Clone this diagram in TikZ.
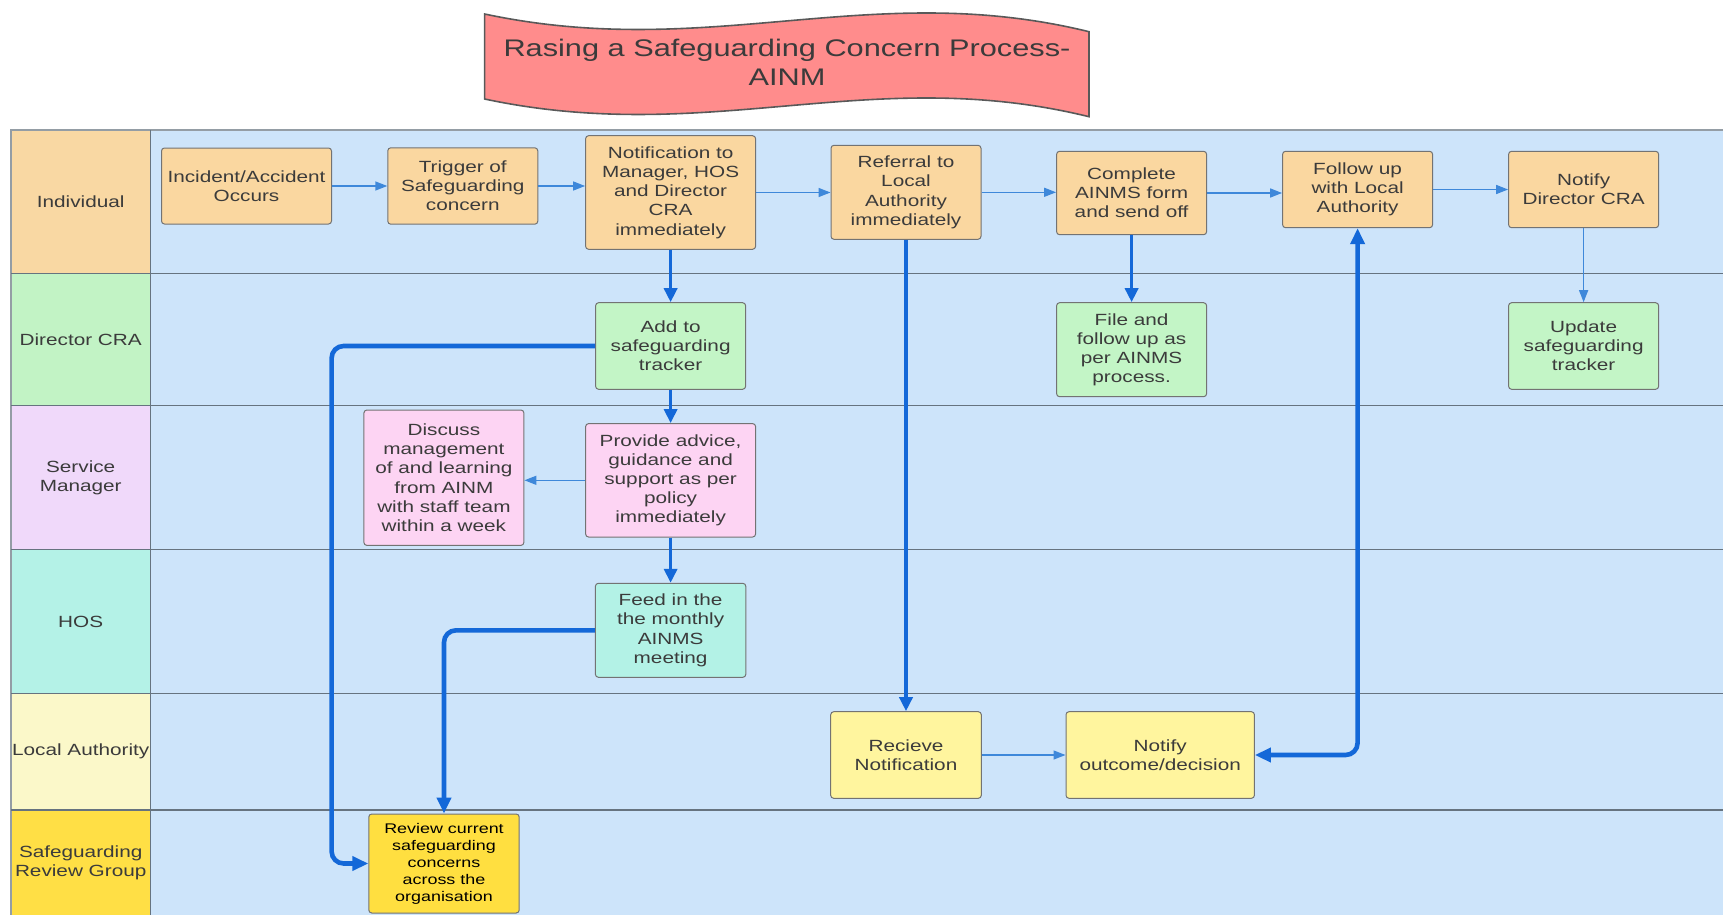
\documentclass[tikz,border=0pt]{standalone}
\usepackage{fontspec}
\setmainfont{Liberation Sans}[FakeStretch=1.28]
\usetikzlibrary{arrows.meta,positioning}

\definecolor{lanebg}{HTML}{CDE4FA}
\definecolor{indiv}{HTML}{F9D8A3}
\definecolor{director}{HTML}{C2F3C5}
\definecolor{service}{HTML}{F0D9FA}
\definecolor{hos}{HTML}{B4F2E7}
\definecolor{authority}{HTML}{FBF8C9}
\definecolor{reviewgrp}{HTML}{FFDF45}
\definecolor{orangebox}{HTML}{FAD7A0}
\definecolor{greenbox}{HTML}{C3F5C6}
\definecolor{pinkbox}{HTML}{FDD4F3}
\definecolor{aquabox}{HTML}{B3F2E6}
\definecolor{yellowbox}{HTML}{FFF59E}
\definecolor{goldbox}{HTML}{FFDF40}
\definecolor{flowblue}{HTML}{1468D8}
\definecolor{thinblue}{HTML}{3E88DA}
\definecolor{banner}{HTML}{FF8C8C}
\definecolor{textgrey}{HTML}{3B3B3B}
\definecolor{lanegrey}{HTML}{66737F}
\tikzstyle{b} = [draw=black!55, line width=0.5pt, rounded corners=1.5pt, align=center, text=textgrey, font=\fontsize{8.1}{9.6}\selectfont, inner sep=0pt]

\begin{document}
\begin{tikzpicture}[x=0.5pt,y=-0.5pt,
			ob/.style={b,fill=orangebox,minimum width=75pt},
			gb/.style={b,fill=greenbox,minimum width=75pt},
			pb/.style={b,fill=pinkbox},
			yb/.style={b,fill=yellowbox,minimum height=43.3pt},
			lane/.style={align=center, text=textgrey, font=\fontsize{8.1}{9.6}\selectfont, inner sep=0pt},
			sep/.style={lanegrey, line width=0.65pt},
			thinflow/.style={-{Triangle[length=6pt,width=4.5pt]}, line width=0.7pt, thinblue},
			flow/.style={-{Triangle[length=7pt,width=6.5pt]}, line width=1.8pt, flowblue},
			bigflow/.style={-{Triangle[length=8pt,width=7pt]}, line width=2.3pt, flowblue, rounded corners=6pt}]
			\useasboundingbox (0,0) rectangle (1723,915);
			
			\draw[draw=black!65, line width=0.8pt, fill=banner] (484.6,14) .. controls (710,62) and (870,-22) .. (1089,31.7) -- (1089,116.7) .. controls (870,63) and (710,147) .. (484.6,99) -- cycle;
			\node (title) at (787,62.5) [align=center, text=textgrey, font=\fontsize{12}{14.5}\selectfont] {Rasing a Safeguarding Concern Process-\\AINM};
			
			\fill[lanebg] (150.5,130) rectangle (1723,915);
			\fill[indiv] (11,130) rectangle (150.5,273.6);
			\fill[director] (11,273.6) rectangle (150.5,405.5);
			\fill[service] (11,405.5) rectangle (150.5,549.5);
			\fill[hos] (11,549.5) rectangle (150.5,693.4);
			\fill[authority] (11,693.4) rectangle (150.5,809.9);
			\fill[reviewgrp] (11,809.9) rectangle (150.5,915);
			\draw[lanegrey!70, line width=1pt] (11,915) -- (11,130) -- (1723,130);
			\foreach \y in {273.6,405.5,549.5,693.4,809.9}
				\draw[sep] (11,\y) -- (1723,\y);
			\draw[sep] (150.5,130) -- (150.5,915);
			
			\node (lindiv) at (80.7,201.8) [lane] {Individual};
			\node (ldir) at (80.7,339.5) [lane] {Director CRA};
			\node (lserv) at (80.7,477.5) [lane] {Service\\Manager};
			\node (lhos) at (80.7,621.5) [lane] {HOS};
			\node (lauth) at (80.7,751.7) [lane] {Local Authority};
			\node (lgroup) at (80.7,862.5) [lane] {Safeguarding\\Review Group};
			
			\node (incident) at (246.5,186) [ob,minimum width=85pt,minimum height=38pt] {Incident/Accident\\Occurs};
			\node (trigger) at (462.8,186) [ob,minimum height=38.2pt] {Trigger of\\Safeguarding\\concern};
			\node (notif) at (670.6,192.5) [ob,minimum width=85pt,minimum height=56.8pt] {Notification to\\Manager, HOS\\and Director\\CRA\\immediately};
			\node (referral) at (906,192.3) [ob,minimum height=47pt] {Referral to\\Local\\Authority\\immediately};
			\node (complete) at (1131.6,193) [ob,minimum height=41.7pt] {Complete\\AINMS form\\and send off};
			\node (followup) at (1357.6,189.5) [ob,minimum height=38.2pt] {Follow up\\with Local\\Authority};
			\node (notifydir) at (1583.6,189.5) [ob,minimum height=38.2pt] {Notify\\Director CRA};
			
			\node (tracker) at (670.6,346) [gb,minimum height=43.3pt] {Add to\\safeguarding\\tracker};
			\node (file) at (1131.6,349.7) [gb,minimum height=47pt] {File and\\follow up as\\per AINMS\\process.};
			\node (update) at (1583.6,346) [gb,minimum height=43.3pt] {Update\\safeguarding\\tracker};
			
			\node (discuss) at (443.9,477.7) [pb,minimum width=80pt,minimum height=67.7pt] {Discuss\\management\\of and learning\\from AINM\\with staff team\\within a week};
			\node (advice) at (670.6,480.3) [pb,minimum width=85pt,minimum height=56.7pt] {Provide advice,\\guidance and\\support as per\\policy\\immediately};
			
			\node (feed) at (670.6,630.3) [b,fill=aquabox,minimum width=75.2pt,minimum height=47pt] {Feed in the\\the monthly\\AINMS\\meeting};
			
			\node (recieve) at (906,755) [yb,minimum width=75.3pt] {Recieve\\Notification};
			\node (outcome) at (1160.2,755) [yb,minimum width=94.2pt] {Notify\\outcome/decision};
			
			\node (reviewbox) at (444,863.5) [b,fill=goldbox,text=black,font=\fontsize{7}{8.5}\selectfont,minimum width=75.2pt,minimum height=49.5pt] {Review current\\safeguarding\\concerns\\across the\\organisation};
			
			\draw[thinflow] (incident) -- (trigger);
			\draw[thinflow] (trigger.east) -- (trigger.east -| notif.west);
			\draw[thinflow] (notif.east) -- (notif.east -| referral.west);
			\draw[thinflow] (referral.east) -- (referral.east -| complete.west);
			\draw[thinflow] (complete.east) -- (complete.east -| followup.west);
			\draw[thinflow] (followup) -- (notifydir);
			\draw[thinflow] (notifydir) -- (update);
			\draw[thinflow] (advice.west) -- (advice.west -| discuss.east);
			\draw[thinflow] (recieve) -- (outcome);
			
			\draw[flow] (notif) -- (tracker);
			\draw[flow] (tracker) -- (advice);
			\draw[flow] (advice) -- (feed);
			\draw[flow] (complete) -- (file);
			\draw[flow] (referral) -- (recieve);
			
			\coordinate (bend) at (331.6,863.5);
			\draw[bigflow] (tracker.west) -| (bend) -- (reviewbox.west);
			\draw[bigflow] (feed.west) -| (reviewbox.north);
			\draw[bigflow,{Triangle[length=8pt,width=7pt]}-{Triangle[length=8pt,width=7pt]}] (followup.south) |- (outcome.east);
		\end{tikzpicture}
\end{document}
